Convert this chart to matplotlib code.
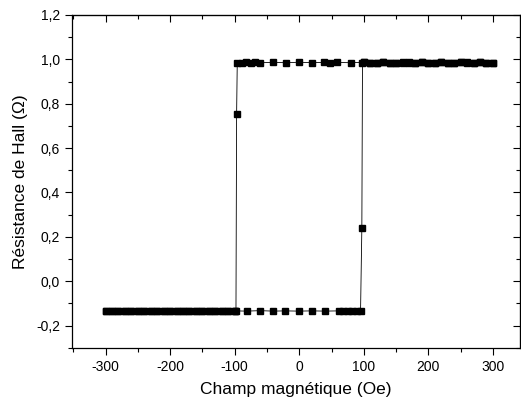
import matplotlib
matplotlib.use("Agg")
import matplotlib.pyplot as plt
from matplotlib.ticker import MultipleLocator, FuncFormatter

plt.rcParams['font.family'] = ['Liberation Sans', 'DejaVu Sans']
plt.rcParams['axes.unicode_minus'] = False

# descending sweep: +300 Oe -> -300 Oe
field_down = [300, 290, 280, 270, 260, 250, 240, 230, 220, 210, 200, 190, 180, 170, 160,
              150, 140, 130, 120, 110, 100, 80, 58, 48, 38, 20, 0, -20, -40, -61, -68,
              -75, -82, -89, -96, -97, -98, -100, -110, -120, -130, -140, -150, -160,
              -170, -180, -190, -200, -210, -220, -230, -240, -250, -260, -270, -280,
              -290, -300]
hall_down = [0.985, 0.984, 0.986, 0.985, 0.987, 0.986, 0.985, 0.985, 0.986, 0.984, 0.985,
             0.986, 0.985, 0.984, 0.986, 0.985, 0.985, 0.986, 0.984, 0.985, 0.987, 0.985,
             0.986, 0.985, 0.986, 0.985, 0.987, 0.985, 0.986, 0.985, 0.986, 0.985, 0.986,
             0.985, 0.985, 0.755, -0.135, -0.134, -0.135, -0.136, -0.135, -0.134, -0.135,
             -0.135, -0.136, -0.135, -0.134, -0.135, -0.136, -0.135, -0.134, -0.135,
             -0.135, -0.136, -0.135, -0.134, -0.135, -0.135]

# ascending sweep: -300 Oe -> +300 Oe
field_up = [-300, -290, -280, -270, -260, -250, -240, -230, -220, -210, -200, -190, -180,
            -170, -160, -150, -140, -130, -120, -110, -100, -81, -61, -40, -22, -1, 20,
            40, 61, 68, 75, 82, 89, 95, 97, 98, 100, 110, 120, 130, 140, 150, 160, 170,
            180, 190, 200, 210, 220, 230, 240, 250, 260, 270, 280, 290, 300]
hall_up = [-0.135, -0.136, -0.135, -0.134, -0.135, -0.135, -0.136, -0.135, -0.134, -0.135,
           -0.135, -0.136, -0.135, -0.134, -0.135, -0.136, -0.135, -0.134, -0.135, -0.135,
           -0.134, -0.135, -0.133, -0.135, -0.134, -0.135, -0.134, -0.135, -0.134, -0.135,
           -0.134, -0.135, -0.136, -0.135, 0.24, 0.985, 0.986, 0.985, 0.984, 0.986, 0.985,
           0.985, 0.984, 0.986, 0.985, 0.986, 0.985, 0.984, 0.986, 0.985, 0.985, 0.986,
           0.984, 0.985, 0.986, 0.985, 0.985]

fig = plt.figure(figsize=(5.21, 4.03), dpi=100)
ax = fig.add_axes([72 / 521, 55.3 / 403, 448 / 521, 332.7 / 403])

for fx, hy in [(field_down, hall_down), (field_up, hall_up)]:
    ax.plot(fx, hy, color='black', lw=0.6, marker='s', ms=5, mec='black', mfc='black')

ax.set_xlim(-352, 342)
ax.set_ylim(-0.3, 1.2)
ax.xaxis.set_major_locator(MultipleLocator(100))
ax.xaxis.set_minor_locator(MultipleLocator(50))
ax.yaxis.set_major_locator(MultipleLocator(0.2))
ax.yaxis.set_minor_locator(MultipleLocator(0.1))
ax.yaxis.set_major_formatter(FuncFormatter(lambda v, p: ('%.1f' % v).replace('.', ',')))
ax.xaxis.set_major_formatter(FuncFormatter(lambda v, p: '%d' % v))

ax.tick_params(which='both', direction='out', top=False, right=False, labelsize=10, width=0.8)
ax.tick_params(which='major', length=5)
ax.tick_params(which='minor', length=3)
ax2 = ax.secondary_xaxis('top')
ax2.xaxis.set_major_locator(MultipleLocator(100))
ax2.xaxis.set_minor_locator(MultipleLocator(50))
ax2.tick_params(which='both', direction='in', labeltop=False, width=0.8)
ax2.tick_params(which='major', length=5)
ax2.tick_params(which='minor', length=3)
ay2 = ax.secondary_yaxis('right')
ay2.yaxis.set_major_locator(MultipleLocator(0.2))
ay2.yaxis.set_minor_locator(MultipleLocator(0.1))
ay2.tick_params(which='both', direction='in', labelright=False, width=0.8)
ay2.tick_params(which='major', length=5)
ay2.tick_params(which='minor', length=3)
for s in ax.spines.values():
    s.set_linewidth(0.9)

ax.set_xlabel('Champ magnétique (Oe)', fontsize=12.5, labelpad=6)
ax.set_ylabel('Résistance de Hall (Ω)', fontsize=12.5, labelpad=6)

fig.savefig('out.png', dpi=100)
